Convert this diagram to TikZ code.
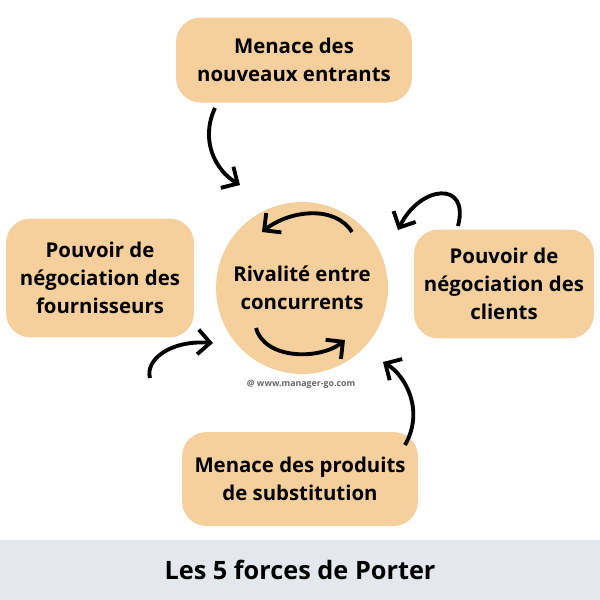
\documentclass[tikz,border=0pt]{standalone}
\usepackage{fontspec}
\setmainfont{Open Sans}
\usetikzlibrary{arrows.meta, positioning}
\definecolor{peach}{HTML}{F5D09D}
\definecolor{band}{HTML}{E4E7EC}
\tikzset{
  force/.style={fill=peach, rounded corners=14pt, align=center, font=\bfseries\fontsize{11.6}{16}\selectfont, inner sep=0pt},
  push/.style={line width=2.2pt, -{Straight Barb[length=7pt,width=14pt]}}
}
\begin{document}
\begin{tikzpicture}[x=0.02cm, y=-0.02cm]
	\useasboundingbox (0,0) rectangle (600,600);
	\fill[band] (0,540) rectangle (600,600);
	\node[font=\bfseries\Large] (title) at (300,570) {Les 5 forces de Porter};

	\node[force, minimum width=4.72cm, minimum height=1.7cm] (top) at (294,60) {Menace des\\nouveaux entrants};
	\node[force, minimum width=3.76cm, minimum height=2.38cm] (left) at (100,278) {Pouvoir de\\négociation des\\fournisseurs};
	\node[force, minimum width=3.6cm, minimum height=2.18cm] (right) at (504,284) {Pouvoir de\\négociation des\\clients};
	\node[force, minimum width=4.72cm, minimum height=1.88cm] (bottom) at (300,479) {Menace des produits\\de substitution};
	\node[circle, fill=peach, minimum size=3.44cm, align=center, font=\bfseries\fontsize{11.6}{16}\selectfont] (rival) at (302,288) {Rivalité entre\\concurrents};
	\node[font=\tiny\bfseries, text=black!60] (mark) at (301,384) {@ www.manager-go.com};

	\coordinate (t1) at (215,108); \coordinate (t2) at (240,185);
	\coordinate (r1) at (458,226); \coordinate (r2) at (398,230);
	\coordinate (l1) at (150,378); \coordinate (l2) at (213,343);
	\coordinate (b1) at (405,445); \coordinate (b2) at (383,362);
	\coordinate (c1) at (352,232); \coordinate (c2) at (262,232);
	\coordinate (c3) at (256,328); \coordinate (c4) at (345,340);

	\draw[push] (t1) .. controls (200,140) and (215,170) .. (t2);
	\draw[push] (r1) .. controls (470,180) and (420,185) .. (r2);
	\draw[push] (l1) .. controls (145,360) and (170,340) .. (l2);
	\draw[push] (b1) .. controls (425,410) and (405,375) .. (b2);
	\draw[push] (c1) .. controls (335,205) and (290,210) .. (c2);
	\draw[push] (c3) .. controls (265,360) and (320,360) .. (c4);
\end{tikzpicture}
\end{document}
